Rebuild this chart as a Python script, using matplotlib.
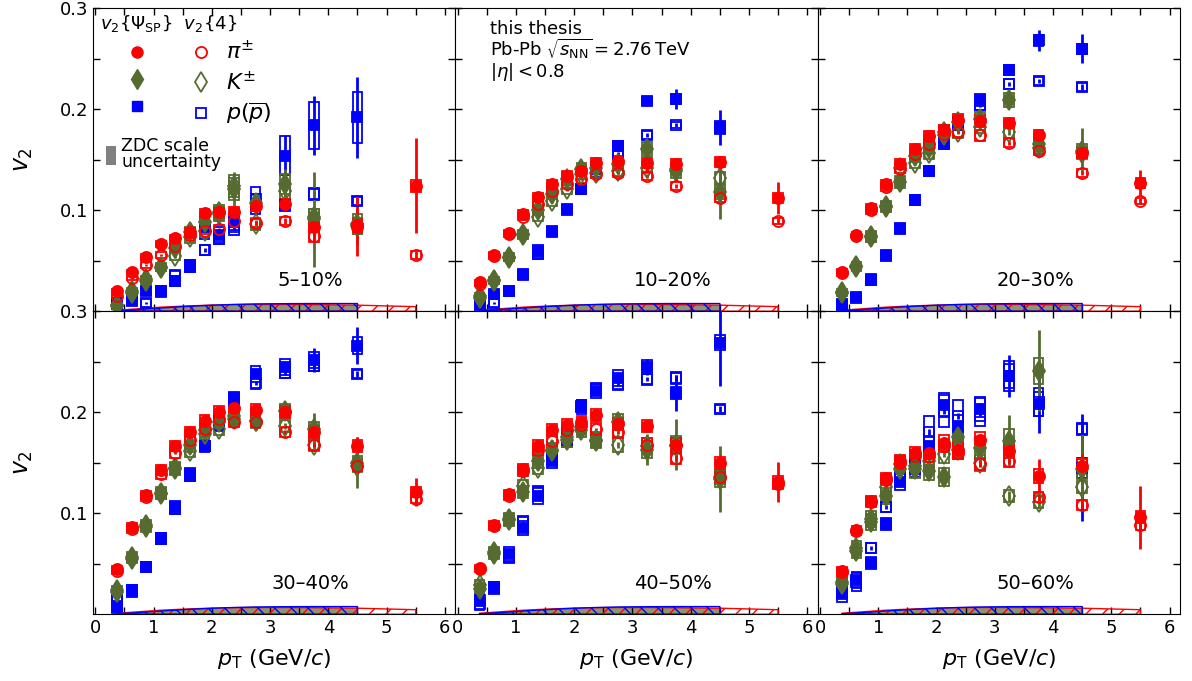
import matplotlib
matplotlib.use('Agg')
import matplotlib.pyplot as plt
from matplotlib.patches import Patch
from matplotlib.lines import Line2D

# pT bin centres (pions go one bin further than kaons / protons)
pt_pi = [0.375, 0.625, 0.875, 1.125, 1.375, 1.625, 1.875, 2.125, 2.375, 2.75, 3.25, 3.75, 4.5, 5.5]
pt_kp = [0.375, 0.625, 0.875, 1.125, 1.375, 1.625, 1.875, 2.125, 2.375, 2.75, 3.25, 3.75, 4.5]

centralities = ['5–10%', '10–20%', '20–30%', '30–40%', '40–50%', '50–60%']

# ---------------- 5-10% ----------------
pi_sp_0510 = [0.020, 0.039, 0.054, 0.067, 0.072, 0.078, 0.097, 0.098, 0.098, 0.104, 0.106, 0.083, 0.085, 0.124]
pi_sp_0510_stat = [0.001, 0.001, 0.001, 0.001, 0.001, 0.001, 0.002, 0.002, 0.002, 0.003, 0.004, 0.008, 0.030, 0.047]
pi_sp_0510_sys = [0.002, 0.002, 0.003, 0.003, 0.003, 0.004, 0.004, 0.004, 0.005, 0.005, 0.005, 0.005, 0.006, 0.006]
pi_4_0510 = [0.015, 0.033, 0.046, 0.056, 0.065, 0.075, 0.079, 0.081, 0.089, 0.087, 0.089, 0.074, 0.083, 0.056]
pi_4_0510_stat = [0.001, 0.001, 0.001, 0.001, 0.001, 0.001, 0.001, 0.001, 0.002, 0.002, 0.003, 0.004, 0.005, 0.004]
pi_4_0510_sys = [0.002, 0.002, 0.003, 0.003, 0.003, 0.003, 0.003, 0.004, 0.004, 0.004, 0.004, 0.005, 0.005, 0.004]
k_sp_0510 = [0.006, 0.020, 0.032, 0.044, 0.063, 0.078, 0.088, 0.096, 0.121, 0.107, 0.126, 0.091, 0.086]
k_sp_0510_stat = [0.001, 0.001, 0.001, 0.002, 0.002, 0.003, 0.004, 0.005, 0.017, 0.008, 0.015, 0.047, 0.020]
k_sp_0510_sys = [0.002, 0.003, 0.003, 0.004, 0.004, 0.005, 0.006, 0.007, 0.011, 0.008, 0.010, 0.010, 0.010]
k_4_0510 = [0.005, 0.018, 0.030, 0.043, 0.055, 0.073, 0.079, 0.098, 0.124, 0.086, 0.119, 0.093, 0.084]
k_4_0510_stat = [0.001, 0.001, 0.001, 0.001, 0.002, 0.002, 0.002, 0.003, 0.004, 0.004, 0.005, 0.006, 0.008]
k_4_0510_sys = [0.002, 0.002, 0.003, 0.003, 0.004, 0.005, 0.006, 0.007, 0.011, 0.006, 0.008, 0.008, 0.008]
p_sp_0510 = [0.008, 0.012, 0.020, 0.019, 0.030, 0.045, 0.083, 0.075, 0.088, 0.106, 0.154, 0.184, 0.192]
p_sp_0510_stat = [0.001, 0.001, 0.001, 0.001, 0.002, 0.002, 0.002, 0.003, 0.003, 0.004, 0.020, 0.029, 0.040]
p_sp_0510_sys = [0.003, 0.003, 0.004, 0.004, 0.005, 0.006, 0.012, 0.008, 0.008, 0.010, 0.019, 0.023, 0.025]
p_4_0510 = [0.007, 0.010, 0.008, 0.020, 0.035, 0.045, 0.061, 0.073, 0.083, 0.111, 0.105, 0.116, 0.109]
p_4_0510_stat = [0.001, 0.001, 0.001, 0.001, 0.001, 0.002, 0.002, 0.002, 0.003, 0.003, 0.003, 0.003, 0.003]
p_4_0510_sys = [0.004, 0.004, 0.004, 0.005, 0.006, 0.006, 0.005, 0.006, 0.008, 0.012, 0.006, 0.006, 0.004]

# ---------------- 10-20% ----------------
pi_sp_1020 = [0.029, 0.056, 0.077, 0.096, 0.113, 0.126, 0.134, 0.139, 0.147, 0.149, 0.147, 0.146, 0.148, 0.112]
pi_sp_1020_stat = [0.001, 0.001, 0.001, 0.001, 0.001, 0.001, 0.001, 0.001, 0.001, 0.002, 0.002, 0.004, 0.006, 0.016]
pi_sp_1020_sys = [0.002, 0.003, 0.003, 0.004, 0.004, 0.004, 0.005, 0.005, 0.005, 0.005, 0.005, 0.005, 0.005, 0.005]
pi_4_1020 = [0.027, 0.055, 0.076, 0.093, 0.106, 0.119, 0.126, 0.131, 0.136, 0.137, 0.134, 0.124, 0.112, 0.089]
pi_4_1020_stat = [0.001, 0.001, 0.001, 0.001, 0.001, 0.001, 0.001, 0.001, 0.001, 0.001, 0.002, 0.002, 0.003, 0.003]
pi_4_1020_sys = [0.002, 0.003, 0.003, 0.003, 0.004, 0.004, 0.004, 0.004, 0.004, 0.004, 0.004, 0.004, 0.004, 0.003]
k_sp_1020 = [0.015, 0.031, 0.054, 0.076, 0.100, 0.116, 0.131, 0.141, 0.142, 0.146, 0.161, 0.139, 0.118]
k_sp_1020_stat = [0.001, 0.001, 0.001, 0.001, 0.001, 0.002, 0.002, 0.002, 0.003, 0.004, 0.005, 0.010, 0.027]
k_sp_1020_sys = [0.003, 0.003, 0.004, 0.004, 0.005, 0.005, 0.006, 0.006, 0.006, 0.006, 0.007, 0.007, 0.007]
k_4_1020 = [0.013, 0.030, 0.053, 0.075, 0.093, 0.109, 0.121, 0.136, 0.137, 0.139, 0.142, 0.141, 0.132]
k_4_1020_stat = [0.001, 0.001, 0.001, 0.001, 0.001, 0.002, 0.002, 0.002, 0.002, 0.003, 0.003, 0.004, 0.006]
k_4_1020_sys = [0.002, 0.003, 0.003, 0.004, 0.004, 0.005, 0.005, 0.005, 0.005, 0.005, 0.005, 0.005, 0.006]
p_sp_1020 = [0.007, 0.017, 0.020, 0.037, 0.060, 0.079, 0.101, 0.121, 0.141, 0.164, 0.208, 0.210, 0.182]
p_sp_1020_stat = [0.001, 0.001, 0.001, 0.001, 0.001, 0.001, 0.001, 0.002, 0.002, 0.002, 0.004, 0.010, 0.017]
p_sp_1020_sys = [0.003, 0.003, 0.003, 0.004, 0.006, 0.004, 0.004, 0.005, 0.008, 0.005, 0.004, 0.005, 0.006]
p_4_1020 = [0.005, 0.008, 0.020, 0.036, 0.057, 0.078, 0.100, 0.121, 0.142, 0.156, 0.174, 0.184, 0.180]
p_4_1020_stat = [0.001, 0.001, 0.001, 0.001, 0.001, 0.001, 0.001, 0.001, 0.002, 0.002, 0.002, 0.002, 0.003]
p_4_1020_sys = [0.003, 0.004, 0.003, 0.004, 0.005, 0.004, 0.004, 0.005, 0.006, 0.004, 0.004, 0.003, 0.003]

# ---------------- 20-30% ----------------
pi_sp_2030 = [0.039, 0.075, 0.102, 0.126, 0.146, 0.161, 0.173, 0.179, 0.189, 0.188, 0.186, 0.174, 0.157, 0.127]
pi_sp_2030_stat = [0.001, 0.001, 0.001, 0.001, 0.001, 0.001, 0.001, 0.001, 0.001, 0.002, 0.002, 0.003, 0.005, 0.013]
pi_sp_2030_sys = [0.003, 0.003, 0.004, 0.004, 0.005, 0.005, 0.005, 0.005, 0.006, 0.006, 0.005, 0.005, 0.005, 0.005]
pi_4_2030 = [0.038, 0.074, 0.100, 0.123, 0.141, 0.156, 0.166, 0.175, 0.177, 0.174, 0.167, 0.159, 0.137, 0.109]
pi_4_2030_stat = [0.001, 0.001, 0.001, 0.001, 0.001, 0.001, 0.001, 0.001, 0.001, 0.001, 0.002, 0.002, 0.002, 0.003]
pi_4_2030_sys = [0.003, 0.003, 0.004, 0.004, 0.004, 0.004, 0.004, 0.005, 0.005, 0.005, 0.004, 0.004, 0.004, 0.003]
k_sp_2030 = [0.019, 0.045, 0.074, 0.104, 0.128, 0.154, 0.162, 0.177, 0.187, 0.190, 0.209, 0.166, 0.159]
k_sp_2030_stat = [0.001, 0.001, 0.001, 0.001, 0.001, 0.002, 0.002, 0.002, 0.003, 0.003, 0.005, 0.008, 0.022]
k_sp_2030_sys = [0.003, 0.004, 0.005, 0.005, 0.006, 0.006, 0.006, 0.007, 0.007, 0.007, 0.007, 0.007, 0.007]
k_4_2030 = [0.018, 0.044, 0.073, 0.103, 0.142, 0.147, 0.157, 0.174, 0.177, 0.182, 0.177, 0.162, 0.157]
k_4_2030_stat = [0.001, 0.001, 0.001, 0.001, 0.001, 0.002, 0.002, 0.002, 0.002, 0.002, 0.003, 0.004, 0.006]
k_4_2030_sys = [0.003, 0.004, 0.004, 0.005, 0.005, 0.005, 0.006, 0.006, 0.006, 0.006, 0.006, 0.006, 0.006]
p_sp_2030 = [0.007, 0.014, 0.031, 0.056, 0.082, 0.110, 0.139, 0.167, 0.186, 0.209, 0.239, 0.268, 0.260]
p_sp_2030_stat = [0.001, 0.001, 0.001, 0.001, 0.001, 0.001, 0.001, 0.001, 0.002, 0.002, 0.004, 0.010, 0.014]
p_sp_2030_sys = [0.004, 0.004, 0.005, 0.004, 0.004, 0.004, 0.004, 0.005, 0.006, 0.006, 0.005, 0.005, 0.005]
p_4_2030 = [0.005, 0.013, 0.032, 0.055, 0.081, 0.110, 0.139, 0.166, 0.184, 0.204, 0.225, 0.228, 0.222]
p_4_2030_stat = [0.001, 0.001, 0.001, 0.001, 0.001, 0.001, 0.001, 0.001, 0.001, 0.002, 0.002, 0.002, 0.003]
p_4_2030_sys = [0.003, 0.003, 0.004, 0.004, 0.004, 0.004, 0.004, 0.005, 0.005, 0.005, 0.005, 0.004, 0.004]

# ---------------- 30-40% ----------------
pi_sp_3040 = [0.045, 0.086, 0.118, 0.143, 0.167, 0.180, 0.191, 0.200, 0.204, 0.202, 0.200, 0.180, 0.167, 0.121]
pi_sp_3040_stat = [0.001, 0.001, 0.001, 0.001, 0.001, 0.001, 0.001, 0.001, 0.001, 0.002, 0.002, 0.004, 0.008, 0.014]
pi_sp_3040_sys = [0.003, 0.004, 0.004, 0.005, 0.005, 0.005, 0.006, 0.006, 0.006, 0.006, 0.006, 0.006, 0.006, 0.005]
pi_4_3040 = [0.043, 0.084, 0.116, 0.139, 0.160, 0.173, 0.183, 0.193, 0.190, 0.190, 0.180, 0.168, 0.147, 0.114]
pi_4_3040_stat = [0.001, 0.001, 0.001, 0.001, 0.001, 0.001, 0.001, 0.001, 0.001, 0.001, 0.002, 0.002, 0.003, 0.004]
pi_4_3040_sys = [0.003, 0.004, 0.004, 0.005, 0.005, 0.005, 0.005, 0.005, 0.005, 0.005, 0.005, 0.005, 0.005, 0.004]
k_sp_3040 = [0.024, 0.057, 0.088, 0.120, 0.145, 0.168, 0.182, 0.190, 0.196, 0.191, 0.201, 0.183, 0.150]
k_sp_3040_stat = [0.001, 0.001, 0.001, 0.001, 0.001, 0.002, 0.002, 0.002, 0.003, 0.003, 0.006, 0.016, 0.025]
k_sp_3040_sys = [0.004, 0.005, 0.005, 0.006, 0.006, 0.007, 0.007, 0.007, 0.007, 0.007, 0.007, 0.007, 0.007]
k_4_3040 = [0.022, 0.055, 0.086, 0.119, 0.144, 0.162, 0.178, 0.183, 0.193, 0.191, 0.186, 0.168, 0.147]
k_4_3040_stat = [0.001, 0.001, 0.001, 0.001, 0.001, 0.002, 0.002, 0.002, 0.002, 0.002, 0.003, 0.004, 0.006]
k_4_3040_sys = [0.004, 0.004, 0.005, 0.005, 0.006, 0.006, 0.006, 0.006, 0.006, 0.006, 0.006, 0.006, 0.006]
p_sp_3040 = [0.007, 0.024, 0.047, 0.075, 0.106, 0.139, 0.167, 0.191, 0.214, 0.238, 0.245, 0.252, 0.266]
p_sp_3040_stat = [0.001, 0.001, 0.001, 0.001, 0.001, 0.001, 0.001, 0.001, 0.002, 0.002, 0.004, 0.012, 0.018]
p_sp_3040_sys = [0.006, 0.005, 0.005, 0.005, 0.006, 0.006, 0.006, 0.006, 0.006, 0.008, 0.008, 0.008, 0.008]
p_4_3040 = [0.014, 0.022, 0.047, 0.075, 0.104, 0.137, 0.167, 0.187, 0.211, 0.229, 0.239, 0.246, 0.238]
p_4_3040_stat = [0.001, 0.001, 0.001, 0.001, 0.001, 0.001, 0.001, 0.001, 0.001, 0.002, 0.002, 0.002, 0.003]
p_4_3040_sys = [0.004, 0.004, 0.004, 0.005, 0.005, 0.005, 0.005, 0.006, 0.005, 0.006, 0.005, 0.005, 0.004]

# ---------------- 40-50% ----------------
pi_sp_4050 = [0.046, 0.088, 0.119, 0.144, 0.167, 0.182, 0.187, 0.190, 0.197, 0.188, 0.186, 0.168, 0.150, 0.131]
pi_sp_4050_stat = [0.001, 0.001, 0.001, 0.001, 0.001, 0.001, 0.001, 0.001, 0.002, 0.002, 0.003, 0.005, 0.008, 0.020]
pi_sp_4050_sys = [0.003, 0.004, 0.004, 0.005, 0.006, 0.006, 0.006, 0.006, 0.006, 0.006, 0.006, 0.006, 0.006, 0.006]
pi_4_4050 = [0.045, 0.087, 0.117, 0.142, 0.163, 0.172, 0.182, 0.187, 0.183, 0.180, 0.168, 0.155, 0.136, 0.129]
pi_4_4050_stat = [0.001, 0.001, 0.001, 0.001, 0.001, 0.001, 0.001, 0.001, 0.001, 0.002, 0.002, 0.003, 0.004, 0.005]
pi_4_4050_sys = [0.003, 0.004, 0.004, 0.005, 0.005, 0.005, 0.005, 0.006, 0.006, 0.006, 0.006, 0.006, 0.005, 0.005]
k_sp_4050 = [0.025, 0.060, 0.093, 0.121, 0.152, 0.163, 0.173, 0.182, 0.172, 0.190, 0.163, 0.168, 0.134]
k_sp_4050_stat = [0.002, 0.002, 0.002, 0.002, 0.002, 0.002, 0.003, 0.003, 0.004, 0.006, 0.015, 0.025, 0.033]
k_sp_4050_sys = [0.005, 0.005, 0.006, 0.006, 0.007, 0.007, 0.007, 0.007, 0.007, 0.008, 0.008, 0.008, 0.008]
k_4_4050 = [0.029, 0.062, 0.094, 0.127, 0.145, 0.162, 0.175, 0.185, 0.173, 0.168, 0.167, 0.167, 0.136]
k_4_4050_stat = [0.001, 0.001, 0.002, 0.002, 0.002, 0.002, 0.002, 0.003, 0.003, 0.003, 0.004, 0.005, 0.006]
k_4_4050_sys = [0.005, 0.005, 0.006, 0.006, 0.006, 0.006, 0.007, 0.007, 0.007, 0.007, 0.007, 0.007, 0.007]
p_sp_4050 = [0.014, 0.026, 0.060, 0.085, 0.117, 0.152, 0.173, 0.205, 0.221, 0.234, 0.245, 0.219, 0.269]
p_sp_4050_stat = [0.001, 0.001, 0.001, 0.001, 0.001, 0.001, 0.002, 0.002, 0.003, 0.004, 0.008, 0.018, 0.043]
p_sp_4050_sys = [0.006, 0.006, 0.007, 0.007, 0.008, 0.007, 0.007, 0.007, 0.007, 0.008, 0.007, 0.006, 0.007]
p_4_4050 = [0.010, 0.027, 0.057, 0.091, 0.121, 0.155, 0.180, 0.206, 0.223, 0.228, 0.233, 0.234, 0.203]
p_4_4050_stat = [0.001, 0.001, 0.001, 0.001, 0.001, 0.001, 0.001, 0.002, 0.002, 0.002, 0.002, 0.003, 0.003]
p_4_4050_sys = [0.006, 0.005, 0.006, 0.006, 0.006, 0.006, 0.006, 0.006, 0.006, 0.006, 0.006, 0.006, 0.004]

# ---------------- 50-60% ----------------
pi_sp_5060 = [0.043, 0.083, 0.112, 0.135, 0.152, 0.160, 0.160, 0.170, 0.163, 0.173, 0.162, 0.137, 0.147, 0.096]
pi_sp_5060_stat = [0.001, 0.001, 0.001, 0.001, 0.001, 0.002, 0.002, 0.002, 0.003, 0.004, 0.006, 0.017, 0.012, 0.031]
pi_sp_5060_sys = [0.004, 0.004, 0.005, 0.005, 0.006, 0.006, 0.006, 0.007, 0.007, 0.007, 0.007, 0.007, 0.007, 0.006]
pi_4_5060 = [0.042, 0.082, 0.111, 0.133, 0.150, 0.157, 0.157, 0.167, 0.160, 0.149, 0.152, 0.116, 0.108, 0.088]
pi_4_5060_stat = [0.001, 0.001, 0.001, 0.001, 0.001, 0.001, 0.002, 0.002, 0.002, 0.003, 0.003, 0.004, 0.004, 0.005]
pi_4_5060_sys = [0.004, 0.004, 0.005, 0.005, 0.006, 0.006, 0.006, 0.006, 0.006, 0.006, 0.006, 0.005, 0.005, 0.005]
k_sp_5060 = [0.032, 0.063, 0.091, 0.117, 0.144, 0.144, 0.142, 0.136, 0.175, 0.165, 0.172, 0.241, 0.144]
k_sp_5060_stat = [0.002, 0.002, 0.002, 0.003, 0.003, 0.004, 0.005, 0.006, 0.008, 0.010, 0.025, 0.040, 0.035]
k_sp_5060_sys = [0.006, 0.007, 0.008, 0.008, 0.009, 0.009, 0.009, 0.009, 0.009, 0.010, 0.011, 0.013, 0.010]
k_4_5060 = [0.030, 0.066, 0.094, 0.126, 0.149, 0.147, 0.152, 0.159, 0.163, 0.150, 0.117, 0.111, 0.126]
k_4_5060_stat = [0.001, 0.002, 0.002, 0.002, 0.002, 0.003, 0.003, 0.003, 0.004, 0.004, 0.005, 0.006, 0.006]
k_4_5060_sys = [0.006, 0.007, 0.008, 0.008, 0.008, 0.008, 0.009, 0.009, 0.009, 0.008, 0.006, 0.006, 0.006]
p_sp_5060 = [0.020, 0.034, 0.051, 0.089, 0.131, 0.150, 0.167, 0.207, 0.185, 0.203, 0.236, 0.208, 0.145]
p_sp_5060_stat = [0.003, 0.002, 0.002, 0.002, 0.002, 0.003, 0.003, 0.004, 0.005, 0.006, 0.021, 0.029, 0.053]
p_sp_5060_sys = [0.008, 0.008, 0.006, 0.006, 0.008, 0.008, 0.009, 0.012, 0.012, 0.012, 0.012, 0.012, 0.010]
p_4_5060 = [0.025, 0.032, 0.066, 0.106, 0.136, 0.144, 0.180, 0.201, 0.196, 0.200, 0.236, 0.210, 0.183]
p_4_5060_stat = [0.002, 0.002, 0.002, 0.002, 0.002, 0.002, 0.003, 0.003, 0.003, 0.004, 0.005, 0.006, 0.008]
p_4_5060_sys = [0.008, 0.009, 0.005, 0.005, 0.008, 0.008, 0.016, 0.016, 0.016, 0.014, 0.015, 0.014, 0.006]

# ZDC scale uncertainty bands (upper edge, from zero)
zdc_pi = [0.001, 0.002, 0.003, 0.004, 0.0047, 0.0053, 0.0058, 0.0062, 0.0065, 0.0067, 0.0067, 0.0065, 0.006, 0.0045]
zdc_k = [0.0008, 0.0018, 0.0028, 0.0036, 0.0043, 0.0049, 0.0054, 0.0058, 0.0061, 0.0063, 0.0064, 0.0063, 0.006]
zdc_p = [0.0005, 0.0013, 0.0022, 0.0032, 0.0041, 0.0049, 0.0056, 0.0062, 0.0067, 0.0072, 0.0075, 0.0076, 0.0076]

panel_data = [
    (pi_sp_0510, pi_sp_0510_stat, pi_sp_0510_sys, pi_4_0510, pi_4_0510_stat, pi_4_0510_sys,
     k_sp_0510, k_sp_0510_stat, k_sp_0510_sys, k_4_0510, k_4_0510_stat, k_4_0510_sys,
     p_sp_0510, p_sp_0510_stat, p_sp_0510_sys, p_4_0510, p_4_0510_stat, p_4_0510_sys),
    (pi_sp_1020, pi_sp_1020_stat, pi_sp_1020_sys, pi_4_1020, pi_4_1020_stat, pi_4_1020_sys,
     k_sp_1020, k_sp_1020_stat, k_sp_1020_sys, k_4_1020, k_4_1020_stat, k_4_1020_sys,
     p_sp_1020, p_sp_1020_stat, p_sp_1020_sys, p_4_1020, p_4_1020_stat, p_4_1020_sys),
    (pi_sp_2030, pi_sp_2030_stat, pi_sp_2030_sys, pi_4_2030, pi_4_2030_stat, pi_4_2030_sys,
     k_sp_2030, k_sp_2030_stat, k_sp_2030_sys, k_4_2030, k_4_2030_stat, k_4_2030_sys,
     p_sp_2030, p_sp_2030_stat, p_sp_2030_sys, p_4_2030, p_4_2030_stat, p_4_2030_sys),
    (pi_sp_3040, pi_sp_3040_stat, pi_sp_3040_sys, pi_4_3040, pi_4_3040_stat, pi_4_3040_sys,
     k_sp_3040, k_sp_3040_stat, k_sp_3040_sys, k_4_3040, k_4_3040_stat, k_4_3040_sys,
     p_sp_3040, p_sp_3040_stat, p_sp_3040_sys, p_4_3040, p_4_3040_stat, p_4_3040_sys),
    (pi_sp_4050, pi_sp_4050_stat, pi_sp_4050_sys, pi_4_4050, pi_4_4050_stat, pi_4_4050_sys,
     k_sp_4050, k_sp_4050_stat, k_sp_4050_sys, k_4_4050, k_4_4050_stat, k_4_4050_sys,
     p_sp_4050, p_sp_4050_stat, p_sp_4050_sys, p_4_4050, p_4_4050_stat, p_4_4050_sys),
    (pi_sp_5060, pi_sp_5060_stat, pi_sp_5060_sys, pi_4_5060, pi_4_5060_stat, pi_4_5060_sys,
     k_sp_5060, k_sp_5060_stat, k_sp_5060_sys, k_4_5060, k_4_5060_stat, k_4_5060_sys,
     p_sp_5060, p_sp_5060_stat, p_sp_5060_sys, p_4_5060, p_4_5060_stat, p_4_5060_sys),
]

c_pi = '#ff0000'
c_k = '#556b2f'
c_p = '#0000ff'
box_w = 0.17


def draw_series(ax, x, y, stat, sys, color, marker, ms, filled):
    # systematic boxes
    ax.bar(x, [2 * s for s in sys], bottom=[v - s for v, s in zip(y, sys)], width=box_w,
           fill=False, edgecolor=color, linewidth=1.3, zorder=3)
    ax.errorbar(x, y, yerr=stat, fmt=marker, color=color, ms=ms,
                mfc=color if filled else 'none', mec=color, mew=1.3,
                elinewidth=2, capsize=0, zorder=4)


fig = plt.figure(figsize=(11.92, 6.81), dpi=100)
axes = fig.subplots(2, 3, sharex=True, sharey=True)
fig.subplots_adjust(left=0.078, right=0.99, top=0.988, bottom=0.098, wspace=0, hspace=0)

for i, ax in enumerate(axes.flat):
    (pi_sp, pi_sp_st, pi_sp_sy, pi_4, pi_4_st, pi_4_sy,
     k_sp, k_sp_st, k_sp_sy, k_4, k_4_st, k_4_sy,
     p_sp, p_sp_st, p_sp_sy, p_4, p_4_st, p_4_sy) = panel_data[i]

    # ZDC bands
    ax.fill_between(pt_kp, 0, zdc_k, facecolor='#8c9573', edgecolor='none', zorder=1)
    ax.fill_between(pt_pi, 0, zdc_pi, facecolor='none', edgecolor=c_pi, hatch='//', linewidth=1, zorder=2)
    ax.fill_between(pt_kp, 0, zdc_p, facecolor='none', edgecolor=c_p, hatch='\\\\', linewidth=1, zorder=2)

    draw_series(ax, pt_kp, p_sp, p_sp_st, p_sp_sy, c_p, 's', 7.5, True)
    draw_series(ax, pt_kp, p_4, p_4_st, p_4_sy, c_p, 's', 7.5, False)
    draw_series(ax, pt_kp, k_sp, k_sp_st, k_sp_sy, c_k, 'd', 10.5, True)
    draw_series(ax, pt_kp, k_4, k_4_st, k_4_sy, c_k, 'd', 10.5, False)
    draw_series(ax, pt_pi, pi_sp, pi_sp_st, pi_sp_sy, c_pi, 'o', 8, True)
    draw_series(ax, pt_pi, pi_4, pi_4_st, pi_4_sy, c_pi, 'o', 8, False)

    ax.text(0.6, 0.1, centralities[i], transform=ax.transAxes, ha='center', va='center', fontsize=14)

    ax.set_xlim(-0.04, 6.18)
    ax.set_ylim(0, 0.3)
    ax.set_xticks([0, 1, 2, 3, 4, 5, 6])
    ax.set_xticks([0.5, 1.5, 2.5, 3.5, 4.5, 5.5], minor=True)
    ax.set_yticks([0.1, 0.2, 0.3])
    ax.set_yticklabels(['0.1', '0.2', '0.3'])
    ax.set_yticks([0.05, 0.15, 0.25], minor=True)
    ax.tick_params(which='both', direction='in', top=True, right=True, length=5, width=1, labelsize=13)

for ax in axes[:, 0]:
    ax.set_ylabel(r'$v_2$', fontsize=17, labelpad=18)
for ax in axes[1, :]:
    ax.set_xlabel(r'$p_{\rm T}$ (GeV/$c$)', fontsize=16, labelpad=7)

# legend in the first panel
ax0 = axes[0, 0]
ax0.text(0.02, 0.985, r'$v_2\{\Psi_{\rm SP}\}$  $v_2\{4\}$', transform=ax0.transAxes,
         ha='left', va='top', fontsize=13)
h_pi_sp = Line2D([], [], ls='none', marker='o', ms=8, color=c_pi)
h_k_sp = Line2D([], [], ls='none', marker='d', ms=10.5, color=c_k)
h_p_sp = Line2D([], [], ls='none', marker='s', ms=7.5, color=c_p)
h_pi_4 = Line2D([], [], ls='none', marker='o', ms=8, color=c_pi, mfc='none', mew=1.3)
h_k_4 = Line2D([], [], ls='none', marker='d', ms=10.5, color=c_k, mfc='none', mew=1.3)
h_p_4 = Line2D([], [], ls='none', marker='s', ms=7.5, color=c_p, mfc='none', mew=1.3)
leg = ax0.legend([h_pi_sp, h_k_sp, h_p_sp, h_pi_4, h_k_4, h_p_4],
                 ['', '', '', r'$\pi^{\pm}$', r'$K^{\pm}$', r'$p(\overline{p})$'],
                 ncol=2, frameon=False, fontsize=16, handlelength=1.0, handletextpad=0.6,
                 columnspacing=1.3, labelspacing=0.32, borderpad=0, borderaxespad=0,
                 loc='upper left', bbox_to_anchor=(0.09, 0.895))
ax0.add_artist(leg)
zleg = ax0.legend([Patch(facecolor='#808080', edgecolor='none')], ['ZDC scale\nuncertainty'],
                  frameon=False, fontsize=12.5, handlelength=0.6, handleheight=1.3, handletextpad=0.3,
                  borderpad=0, borderaxespad=0, loc='upper left', bbox_to_anchor=(0.035, 0.575))
zleg.get_texts()[0].set_linespacing(0.85)

# info text in the second panel
axes[0, 1].text(0.095, 0.962, 'this thesis\nPb-Pb $\\sqrt{s_{\\rm NN}}$$=$2.76$\\,$TeV\n$|\\eta| < 0.8$',
                transform=axes[0, 1].transAxes, ha='left', va='top', fontsize=13, linespacing=0.98)

fig.savefig('out.png', dpi=100)
